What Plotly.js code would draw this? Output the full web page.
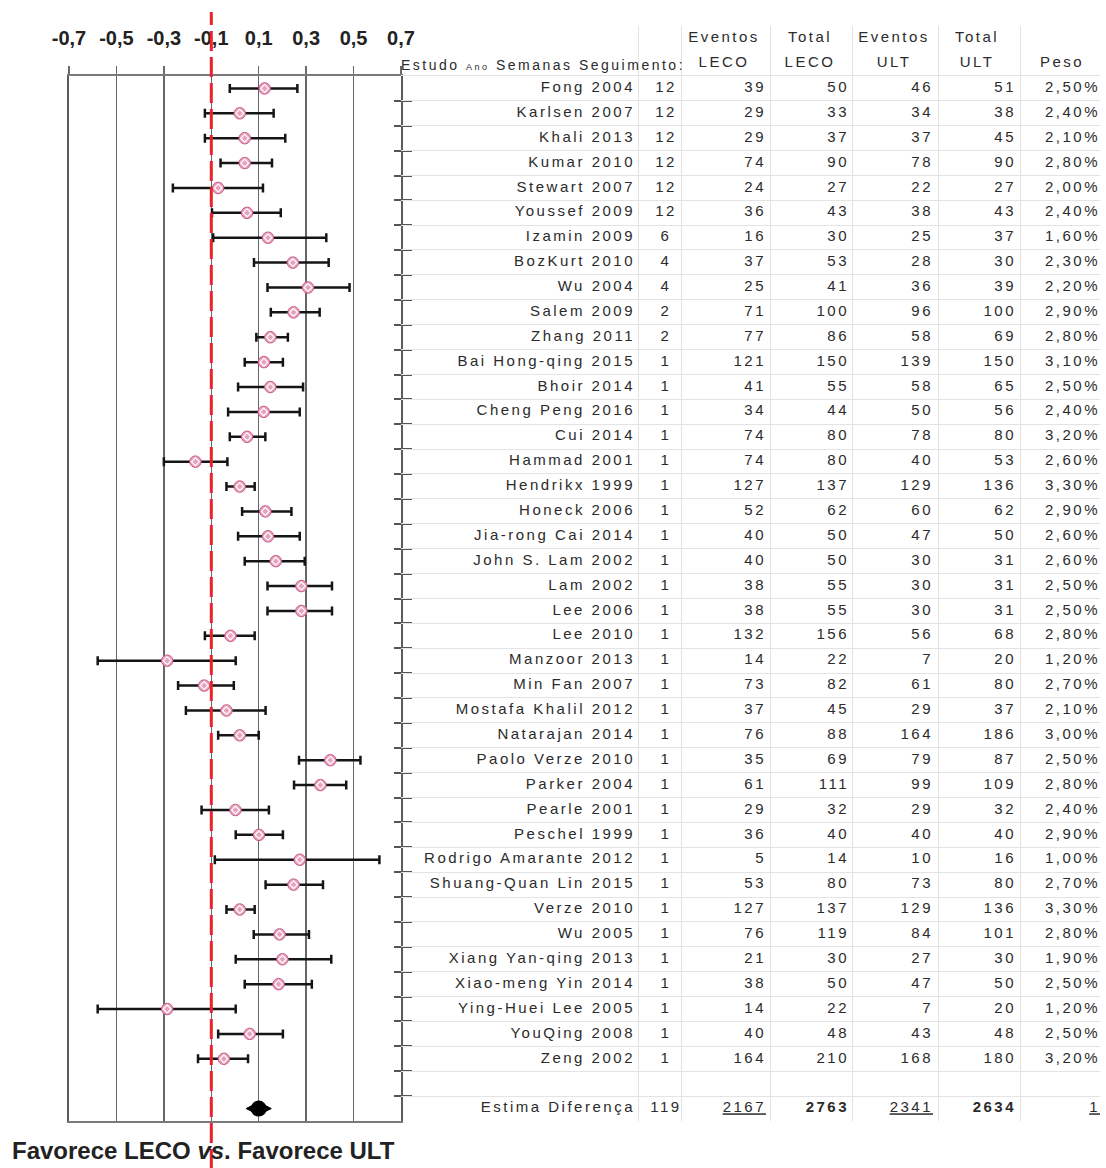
<!DOCTYPE html>
<html><head><meta charset="utf-8">
<script src="https://cdn.plot.ly/plotly-3.0.1.min.js"></script>
<style>
html,body{margin:0;padding:0;background:#fff;}
#chart{width:1106px;height:1168px;}
.js-plotly-plot .textpoint text{letter-spacing:2.5px;}
</style></head><body><div id="chart"></div>
<script>
// ---------- data ----------
const STUDIES = ['Fong 2004','Karlsen 2007','Khali 2013','Kumar 2010','Stewart 2007','Youssef 2009','Izamin 2009','BozKurt 2010','Wu 2004','Salem 2009','Zhang 2011','Bai Hong-qing 2015','Bhoir 2014','Cheng Peng 2016','Cui 2014','Hammad 2001','Hendrikx 1999','Honeck 2006','Jia-rong Cai 2014','John S. Lam 2002','Lam 2002','Lee 2006','Lee 2010','Manzoor 2013','Min Fan 2007','Mostafa Khalil 2012','Natarajan 2014','Paolo Verze 2010','Parker 2004','Pearle 2001','Peschel 1999','Rodrigo Amarante 2012','Shuang-Quan Lin 2015','Verze 2010','Wu 2005','Xiang Yan-qing 2013','Xiao-meng Yin 2014','Ying-Huei Lee 2005','YouQing 2008','Zeng 2002'];
const WEEKS = [12,12,12,12,12,12,6,4,4,2,2,1,1,1,1,1,1,1,1,1,1,1,1,1,1,1,1,1,1,1,1,1,1,1,1,1,1,1,1,1];
const EVENTS_LECO = [39,29,29,74,24,36,16,37,25,71,77,121,41,34,74,74,127,52,40,40,38,38,132,14,73,37,76,35,61,29,36,5,53,127,76,21,38,14,40,164];
const TOTAL_LECO = [50,33,37,90,27,43,30,53,41,100,86,150,55,44,80,80,137,62,50,50,55,55,156,22,82,45,88,69,111,32,40,14,80,137,119,30,50,22,48,210];
const EVENTS_ULT = [46,34,37,78,22,38,25,28,36,96,58,139,58,50,78,40,129,60,47,30,30,30,56,7,61,29,164,79,99,29,40,10,73,129,84,27,47,7,43,168];
const TOTAL_ULT = [51,38,45,90,27,43,37,30,39,100,69,150,65,56,80,53,136,62,50,31,31,31,68,20,80,37,186,87,109,32,40,16,80,136,101,30,50,20,48,180];
const WEIGHT = ['2,50%','2,40%','2,10%','2,80%','2,00%','2,40%','1,60%','2,30%','2,20%','2,90%','2,80%','3,10%','2,50%','2,40%','3,20%','2,60%','3,30%','2,90%','2,60%','2,60%','2,50%','2,50%','2,80%','1,20%','2,70%','2,10%','3,00%','2,50%','2,80%','2,40%','2,90%','1,00%','2,70%','3,30%','2,80%','1,90%','2,50%','1,20%','2,50%','3,20%'];
const CI_LOW = [-0.022,-0.127,-0.127,-0.061,-0.262,-0.097,-0.092,0.080,0.137,0.151,0.090,0.041,0.013,-0.029,-0.022,-0.300,-0.036,0.030,0.013,0.041,0.137,0.137,-0.127,-0.579,-0.240,-0.207,-0.071,0.270,0.249,-0.141,0.003,-0.085,0.129,-0.036,0.079,0.003,0.041,-0.579,-0.071,-0.156];
const ESTIMATE = [0.125,0.020,0.041,0.041,-0.071,0.051,0.139,0.244,0.308,0.247,0.149,0.122,0.149,0.121,0.051,-0.167,0.020,0.128,0.139,0.172,0.280,0.280,-0.019,-0.286,-0.130,-0.036,0.020,0.402,0.360,0.002,0.101,0.273,0.247,0.020,0.188,0.200,0.184,-0.286,0.062,-0.047];
const CI_HIGH = [0.263,0.163,0.212,0.156,0.118,0.193,0.385,0.395,0.483,0.357,0.223,0.202,0.287,0.273,0.128,-0.032,0.083,0.238,0.273,0.294,0.409,0.409,0.083,0.003,-0.005,0.129,0.100,0.529,0.469,0.143,0.202,0.609,0.371,0.083,0.312,0.406,0.324,0.003,0.202,0.055];
const SUMMARY_ESTIMATE = [0.1];
const SUMMARY_ROW = ['Estima Diferença','119','2167','2763','2341','2634','1'];
const X_TICKS = [-0.7,-0.5,-0.3,-0.1,0.1,0.3,0.5,0.7];
const X_TICK_LABELS = ['-0,7','-0,5','-0,3','-0,1','0,1','0,3','0,5','0,7'];
const NULL_LINE = -0.1;
const HEADER_TOP = ['Eventos','Total','Eventos','Total'];
const HEADER_BOTTOM = ['LECO','LECO','ULT','ULT','Peso'];
const STUDY_HEADER = 'Estudo <span style="font-size:9px">Ano</span> Semanas Seguimento:';
const FOOTER = '<b>Favorece LECO <i>vs</i>. Favorece ULT</b>';

// ---------- layout constants ----------
const FONT = 'Liberation Sans, Arial, sans-serif';
const TXT = '#2b2b2b';
const nStudy = STUDIES.length;
const summaryY = nStudy + 2;
const nRows = summaryY;
const rows = STUDIES.map((_, i) => i + 1);
const boundaries = [];
for (let k = 1; k < nRows; k++) boundaries.push(k + 0.5);
const tableBounds = [-1.5];
for (let k = 0; k <= nRows; k++) tableBounds.push(k + 0.5);
const SUMMARY_STYLE = ['', '', 'u', 'b', 'u', 'b', 'u'];
const fmt = (s, st) => st ? '<' + st + '>' + s + '</' + st + '>' : s;

const COLS = [
  {data: STUDIES, x: 635, pos: 'middle left'},
  {data: WEEKS, x: 666, pos: 'middle center'},
  {data: EVENTS_LECO, x: 766, pos: 'middle left'},
  {data: TOTAL_LECO, x: 849, pos: 'middle left'},
  {data: EVENTS_ULT, x: 933, pos: 'middle left'},
  {data: TOTAL_ULT, x: 1016, pos: 'middle left'},
  {data: WEIGHT, x: 1100, pos: 'middle left'}
];
const HEADER_X = [724, 810, 894, 977, 1062];
const COL_LINES = [638, 681, 770, 852, 938, 1020];

const W = 1106, H = 1168, ML = 69, MR = 6, MT = 26, MB = 47;
const plotW = W - ML - MR, plotH = H - MT - MB;
const forestFrac = 332 / plotW;
const forestTop = (H - MB - 76) / plotH;

const traces = [];
traces.push({
  type: 'scatter', mode: 'markers', x: ESTIMATE, y: rows, xaxis: 'x', yaxis: 'y',
  marker: {symbol: 'circle', size: 11.5, color: '#e8a2bd', line: {color: '#c85a86', width: 1}},
  error_x: {type: 'data', symmetric: false,
    array: CI_HIGH.map((h, i) => h - ESTIMATE[i]),
    arrayminus: CI_LOW.map((l, i) => ESTIMATE[i] - l),
    color: '#151515', thickness: 2.5, width: 4.5},
  hoverinfo: 'skip', cliponaxis: false
});
traces.push({
  type: 'scatter', mode: 'markers', x: ESTIMATE, y: rows, xaxis: 'x', yaxis: 'y',
  marker: {symbol: 'diamond-open', size: 6, color: '#ffffff', line: {width: 1.2}},
  hoverinfo: 'skip', cliponaxis: false
});
traces.push({
  type: 'scatter', mode: 'markers', x: SUMMARY_ESTIMATE, y: [summaryY], xaxis: 'x', yaxis: 'y',
  marker: {symbol: 'diamond-wide', size: 18, color: '#000', line: {color: '#000', width: 1}},
  hoverinfo: 'skip', cliponaxis: false
});
traces.push({
  type: 'scatter', mode: 'markers', x: SUMMARY_ESTIMATE, y: [summaryY], xaxis: 'x', yaxis: 'y',
  marker: {symbol: 'circle', size: 16, color: '#000'},
  hoverinfo: 'skip', cliponaxis: false
});
traces.push({type: 'scatter', mode: 'markers', x: [], y: [], xaxis: 'x', yaxis: 'y3', hoverinfo: 'skip'});

COLS.forEach((c, ci) => {
  traces.push({
    type: 'scatter', mode: 'text', xaxis: 'x2', yaxis: 'y2',
    x: rows.concat([summaryY]).map(() => c.x),
    y: rows.concat([summaryY]),
    text: c.data.map(String).concat([fmt(SUMMARY_ROW[ci], SUMMARY_STYLE[ci])]),
    textposition: c.pos,
    textfont: {family: FONT, size: 15, color: TXT},
    hoverinfo: 'skip', cliponaxis: false
  });
});
traces.push({
  type: 'scatter', mode: 'text', xaxis: 'x2', yaxis: 'y2',
  x: HEADER_X.slice(0, HEADER_TOP.length), y: HEADER_TOP.map(() => -1), text: HEADER_TOP,
  textposition: 'middle center', textfont: {family: FONT, size: 15, color: TXT},
  hoverinfo: 'skip', cliponaxis: false
});
traces.push({
  type: 'scatter', mode: 'text', xaxis: 'x2', yaxis: 'y2',
  x: HEADER_X, y: HEADER_BOTTOM.map(() => 0), text: HEADER_BOTTOM,
  textposition: 'middle center', textfont: {family: FONT, size: 15, color: TXT},
  hoverinfo: 'skip', cliponaxis: false
});
traces.push({
  type: 'scatter', mode: 'text', xaxis: 'x2', yaxis: 'y2',
  x: [401], y: [0.12], text: [STUDY_HEADER],
  textposition: 'middle right', textfont: {family: FONT, size: 14, color: TXT},
  hoverinfo: 'skip', cliponaxis: false
});

const layout = {
  width: W, height: H, showlegend: false, hovermode: false,
  margin: {l: ML, r: MR, t: MT, b: MB, pad: 0},
  paper_bgcolor: '#fff', plot_bgcolor: 'rgba(0,0,0,0)',
  font: {family: FONT, color: TXT},
  xaxis: {
    domain: [0, forestFrac], range: [-0.7, 0.7], side: 'top', anchor: 'y',
    tickvals: X_TICKS, ticktext: X_TICK_LABELS,
    tickfont: {family: FONT, size: 20, color: '#222', weight: 'bold'},
    ticks: 'outside', ticklen: 8, tickwidth: 1.5, tickcolor: '#6a6a6a', ticklabelstandoff: 13,
    showgrid: true, gridcolor: '#666', gridwidth: 1.5,
    showline: true, mirror: true, linecolor: '#7a7a7a', linewidth: 2,
    zeroline: false, fixedrange: true
  },
  yaxis: {
    domain: [0, forestTop], range: [nRows + 0.5, 0.5], anchor: 'x', side: 'right',
    tickvals: boundaries, showticklabels: false,
    ticks: 'outside', ticklen: 9, tickwidth: 2, tickcolor: '#555',
    showgrid: false, zeroline: false,
    showline: true, mirror: true, linecolor: '#5a5a5a', linewidth: 2, fixedrange: true
  },
  yaxis3: {
    overlaying: 'y', anchor: 'x', side: 'right', range: [nRows + 0.5, 0.5],
    tickvals: boundaries, showticklabels: false,
    ticks: 'inside', ticklen: 7, tickwidth: 2, tickcolor: '#555',
    showgrid: false, zeroline: false, showline: false, fixedrange: true
  },
  xaxis2: {
    domain: [forestFrac, 1], range: [401, 1100], anchor: 'y2',
    tickvals: COL_LINES, showticklabels: false, ticks: '',
    showgrid: true, gridcolor: '#e2e2e2', gridwidth: 1,
    zeroline: false, showline: false, fixedrange: true
  },
  yaxis2: {
    domain: [0, 1], range: [nRows + 0.5, -1.5], anchor: 'x2',
    tickvals: tableBounds, showticklabels: false, ticks: '',
    showgrid: true, gridcolor: '#e4e4e4', gridwidth: 1,
    zeroline: false, showline: false, fixedrange: true
  },
  shapes: [{
    type: 'line', xref: 'x', yref: 'paper', x0: NULL_LINE, x1: NULL_LINE,
    y0: -MB / plotH - 0.001, y1: 1 + (MT - 12) / plotH,
    line: {color: '#e8232c', width: 3, dash: '20px,6px'}, layer: 'above'
  }],
  annotations: [
    {xref: 'paper', yref: 'paper', x: (10 - ML) / plotW, y: -(1150 - (H - MB)) / plotH,
     xanchor: 'left', yanchor: 'middle', text: FOOTER, showarrow: false,
     font: {family: FONT, size: 24, color: '#222'}}
  ]
};

Plotly.newPlot('chart', traces, layout, {displayModeBar: false, staticPlot: true});
</script></body></html>
